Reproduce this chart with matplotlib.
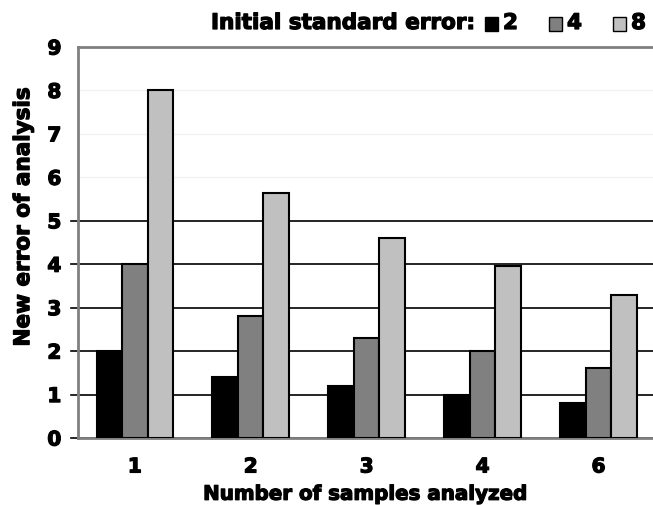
import matplotlib
matplotlib.use("Agg")
import matplotlib.pyplot as plt
import matplotlib.patheffects as pe
from matplotlib.patches import Rectangle
import numpy as np

# values
samples = ["1", "2", "3", "4", "6"]
err_2 = [2.0, 1.41, 1.2, 1.0, 0.8]
err_4 = [4.0, 2.8, 2.3, 2.0, 1.6]
err_8 = [8.0, 5.65, 4.6, 3.97, 3.3]
series_labels = ["2", "4", "8"]
colors = ["#000000", "#808080", "#c0c0c0"]

plt.rcParams['font.family'] = ['DejaVu Sans']
W = 'bold'
FW, FH = 653, 506
# fake a heavier "black" weight
heavy = [pe.withStroke(linewidth=0.9, foreground='black')]

fig = plt.figure(figsize=(6.53, 5.06), dpi=100)
ax = fig.add_axes([78 / FW, 1 - 439 / FH, 1 - 78 / FW, (439 - 48) / FH])

x = np.arange(len(samples))
width = 0.22
for i, vals in enumerate([err_2, err_4, err_8]):
    ax.bar(x + (i - 1) * width, vals, width, color=colors[i],
           edgecolor='black', linewidth=1.5, zorder=3, label=series_labels[i])

# gridlines: dark ones up to 5, barely visible above
for yv in range(0, 6):
    ax.plot([-0.012, 1], [yv, yv], color='black', lw=1.2,
            transform=ax.get_yaxis_transform(), clip_on=False, zorder=2)
for yv in range(6, 9):
    ax.axhline(yv, color='#f2f2f2', lw=1, zorder=1)

ax.set_xlim(-0.49, 4.47)
ax.set_ylim(0, 9)
ax.set_yticks(range(0, 10))
ax.set_xticks(x)
ax.set_xticklabels(samples)
ax.tick_params(axis='both', length=0, labelsize=14.5)
ax.tick_params(axis='y', pad=12)
ax.tick_params(axis='x', pad=14)
for lab in ax.get_xticklabels() + ax.get_yticklabels():
    lab.set_fontweight(W)
    lab.set_path_effects(heavy)

for s in ['left', 'top', 'bottom']:
    ax.spines[s].set_color('#808080')
    ax.spines[s].set_linewidth(2)
ax.spines['right'].set_visible(False)

ax.set_xlabel("Number of samples analyzed", fontsize=14.3, fontweight=W, labelpad=6,
              path_effects=heavy)
ax.set_ylabel("New error of analysis", fontsize=15.5, fontweight=W, path_effects=heavy)
ax.yaxis.set_label_coords(-0.078, 0.565)

# legend line at the top, laid out by hand
ty = 1 - 24 / FH
fig.text(474 / FW, ty, "Initial standard error:", ha='right', va='center',
         fontsize=15.5, fontweight=W, path_effects=heavy)
sq_x = [485, 549, 613]
for lab, c, sx in zip(series_labels, colors, sq_x):
    fig.add_artist(Rectangle((sx / FW, 1 - 32 / FH), 13 / FW, 14 / FH,
                             transform=fig.transFigure, facecolor=c,
                             edgecolor='black', linewidth=1))
    fig.text((sx + 18) / FW, ty, lab, ha='left', va='center',
             fontsize=15.5, fontweight=W, path_effects=heavy)

fig.savefig("out.png", dpi=100)
